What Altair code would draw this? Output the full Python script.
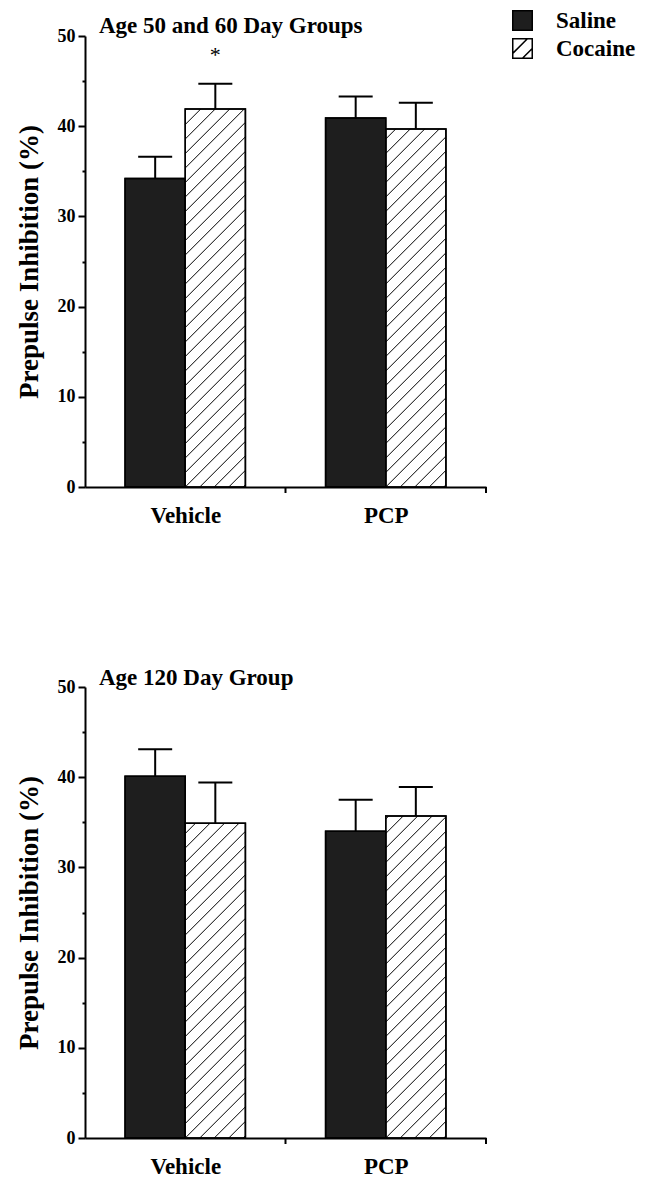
import json
import altair as alt
import pandas as pd

# ---------------- data ----------------
categories = ["Vehicle", "PCP"]
treatments = ["Saline", "Cocaine"]

top_saline = [34.2, 40.9]
top_saline_sem = [2.4, 2.4]
top_cocaine = [41.9, 39.7]
top_cocaine_sem = [2.8, 2.9]
top_cocaine_marks = ["*", ""]

bottom_saline = [40.1, 34.0]
bottom_saline_sem = [3.0, 3.5]
bottom_cocaine = [34.9, 35.7]
bottom_cocaine_sem = [4.5, 3.2]
bottom_cocaine_marks = ["", ""]

y_tick_values = [0, 5, 10, 15, 20, 25, 30, 35, 40, 45, 50]

# ---------------- style ----------------
FONT = "Liberation Serif"
DARK = "#1e1e1e"
W, H = 401, 451
BAR_START = {"Saline": 0.2, "Cocaine": 0.5}
BAR_W = 0.3
HATCH_PX = 14.5
HATCH_PATH = "M-1,-1H1V1H-1Z M-1,0.5L0.5,-1 M0,1L1,0"


def panel(title, sal, sal_sem, coc, coc_sem, coc_marks, with_legend, title_offset):
    rows = []
    for i, cat in enumerate(categories):
        for t, m, s, mk in (("Saline", sal[i], sal_sem[i], ""),
                            ("Cocaine", coc[i], coc_sem[i], coc_marks[i])):
            x0 = i + BAR_START[t]
            rows.append(dict(cat=cat, idx=i, treat=t, mean=m, sem=s, top=m + s,
                             x0=x0, x1=x0 + BAR_W, xc=x0 + BAR_W / 2, mark=mk))
    df = pd.DataFrame(rows)

    # hatch lines for cocaine bars (45 degrees in pixel space)
    sx = W / len(categories)
    sy = H / 50.0
    hatch = []
    for r in rows:
        if r["treat"] != "Cocaine":
            continue
        wpx = BAR_W * sx
        hpx = r["mean"] * sy
        k = -int(wpx // HATCH_PX)
        while k * HATCH_PX <= hpx:
            c = k * HATCH_PX
            u0 = max(0.0, -c)
            u1 = min(wpx, hpx - c)
            if u1 > u0:
                hatch.append(dict(hx0=r["x0"] + u0 / sx, hy0=(u0 + c) / sy,
                                  hx1=r["x0"] + u1 / sx, hy1=(u1 + c) / sy))
            k += 1
    hdf = pd.DataFrame(hatch)

    bounds = pd.DataFrame({"b": [i + 1 for i in range(len(categories))]})

    xscale = alt.Scale(domain=[0, len(categories)], nice=False, zero=False)
    yscale = alt.Scale(domain=[0, 50], nice=False)

    label_expr = json.dumps(categories) + "[floor(datum.value)]"

    xaxis = alt.Axis(values=[i + 0.5 for i in range(len(categories))],
                     labelExpr=label_expr, ticks=False, domainWidth=2,
                     title=None, labelFontSize=23, labelPadding=17, grid=False,
                     labelFont=FONT, labelFontWeight="bold", labelColor="black",
                     domainColor="black")
    yaxis = alt.Axis(values=y_tick_values,
                     labelExpr="datum.value % 10 === 0 ? datum.label : ''",
                     tickSize={"condition": {"test": "datum.value % 10 !== 0", "value": 3},
                               "value": 7},
                     domainWidth=2, tickWidth=2, domainColor="black", tickColor="black",
                     labelFont=FONT, labelFontSize=18, labelFontWeight="bold",
                     labelColor="black", labelPadding=3, grid=False,
                     title="Prepulse Inhibition (%)", titleFont=FONT, titleFontSize=27,
                     titleFontWeight="bold", titleColor="black", titlePadding=14)

    base = alt.Chart(df)
    bars = base.mark_bar(stroke="black", strokeWidth=1.5).encode(
        x=alt.X("x0:Q", scale=xscale, axis=xaxis),
        x2="x1:Q",
        y=alt.Y("mean:Q", scale=yscale, axis=yaxis),
        y2=alt.datum(0),
        fill=alt.when("datum.treat === 'Saline'").then(alt.value(DARK)).otherwise(alt.value("white")),
    )
    hatch_layer = alt.Chart(hdf).mark_rule(strokeWidth=1, color="black").encode(
        x=alt.X("hx0:Q", scale=xscale, axis=None),
        y=alt.Y("hy0:Q", scale=yscale, axis=None),
        x2="hx1:Q",
        y2="hy1:Q",
    )
    outline = base.mark_bar(fill="transparent", stroke="black", strokeWidth=1.5).encode(
        x=alt.X("x0:Q", scale=xscale, axis=None),
        x2="x1:Q",
        y=alt.Y("mean:Q", scale=yscale, axis=None),
        y2=alt.datum(0),
    )
    err = base.mark_rule(strokeWidth=2, color="black").encode(
        x=alt.X("xc:Q", scale=xscale, axis=None),
        y=alt.Y("mean:Q", scale=yscale, axis=None),
        y2="top:Q",
    )
    cap = base.mark_tick(orient="horizontal", size=34, thickness=2, color="black", opacity=1).encode(
        x=alt.X("xc:Q", scale=xscale, axis=None),
        y=alt.Y("top:Q", scale=yscale, axis=None),
    )
    star = base.mark_text(dy=-29, fontSize=22, font=FONT, color="black").encode(
        x=alt.X("xc:Q", scale=xscale, axis=None),
        y=alt.Y("top:Q", scale=yscale, axis=None),
        text="mark:N",
    )
    btick = alt.Chart(bounds).mark_rule(strokeWidth=2, color="black").encode(
        x=alt.X("b:Q", scale=xscale, axis=None),
        y=alt.value(H),
        y2=alt.value(H + 6),
    )
    layers = [bars, hatch_layer, outline, err, cap, star, btick]

    if with_legend:
        leg = alt.Legend(title=None, orient="none", legendX=426, legendY=-27,
                         symbolSize=380, symbolStrokeColor="black", symbolStrokeWidth=1.5,
                         labelFont=FONT, labelFontSize=23, labelFontWeight="bold",
                         labelColor="black", labelOffset=22, rowPadding=1)
        legend_layer = base.transform_filter("false").mark_point(
            filled=True, strokeWidth=1.5, opacity=1).encode(
            x=alt.X("xc:Q", scale=xscale, axis=None),
            y=alt.Y("mean:Q", scale=yscale, axis=None),
            fill=alt.Fill("treat:N", scale=alt.Scale(domain=treatments, range=[DARK, "white"]),
                          legend=leg),
            stroke=alt.Stroke("treat:N", scale=alt.Scale(domain=treatments, range=["black", "black"]),
                              legend=leg),
            shape=alt.Shape("treat:N", scale=alt.Scale(domain=treatments, range=["square", HATCH_PATH]),
                            legend=leg),
        )
        layers.append(legend_layer)

    return alt.layer(*layers).resolve_axis(x="independent", y="independent").properties(
        width=W, height=H,
        title=alt.TitleParams(title, anchor="start", frame="group", dx=14, offset=title_offset,
                              font=FONT, fontSize=23, fontWeight="bold", color="black"),
    )


top = panel("Age 50 and 60 Day Groups", top_saline, top_saline_sem, top_cocaine,
            top_cocaine_sem, top_cocaine_marks, True, -29)
bottom = panel("Age 120 Day Group", bottom_saline, bottom_saline_sem, bottom_cocaine,
               bottom_cocaine_sem, bottom_cocaine_marks, False, -12)

chart = alt.vconcat(top, bottom, spacing=140).resolve_scale(
    fill="independent", shape="independent", stroke="independent"
).properties(
    padding={"left": 15, "top": 9, "right": 2, "bottom": 2}
).configure(background="white").configure_view(strokeWidth=0, stroke="transparent")

chart.save("out.html", embed_options={"renderer": "svg", "actions": False})
